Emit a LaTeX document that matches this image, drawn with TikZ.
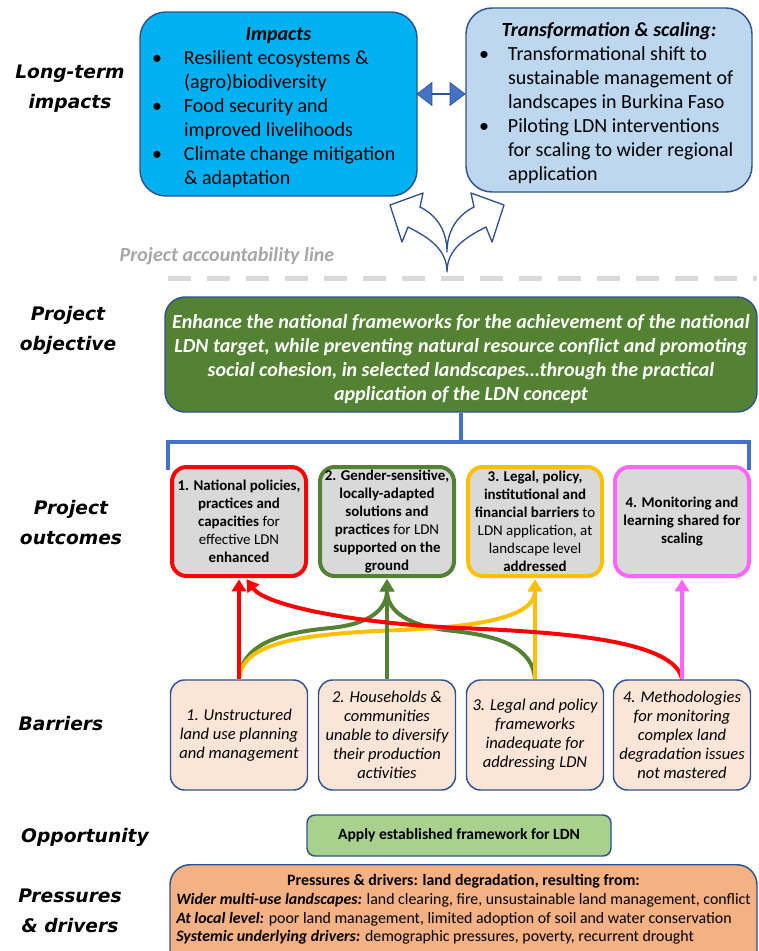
\documentclass[tikz,border=0pt]{standalone}
\usepackage{fontspec}
\setmainfont{Carlito}
\newfontfamily\lblfont{DejaVu Sans}
\usetikzlibrary{arrows.meta,shapes.arrows}
\definecolor{impblue}{HTML}{00B0F0}
\definecolor{trblue}{HTML}{BDD7EE}
\definecolor{edgeblue}{HTML}{2F528F}
\definecolor{accblue}{HTML}{4472C4}
\definecolor{objgreen}{HTML}{548235}
\definecolor{outgray}{HTML}{D9D9D9}
\definecolor{outyellow}{HTML}{FFC000}
\definecolor{outpink}{HTML}{FF66FF}
\definecolor{barfill}{HTML}{FBE5D6}
\definecolor{oppgreen}{HTML}{A9D18E}
\definecolor{presfill}{HTML}{F4B183}
\definecolor{linegray}{HTML}{D9D9D9}
\definecolor{txtgray}{HTML}{A6A6A6}

\begin{document}
\begin{tikzpicture}[x=0.75pt, y=-0.75pt,
  lbl/.style={font=\lblfont\bfseries\itshape\fontsize{14}{22.5}\selectfont, align=center},
  topbox/.style={draw=edgeblue, line width=1.1pt, rounded corners=19.5pt, minimum width=207.75pt, minimum height=138pt, inner sep=0pt, font=\fontsize{15}{18}\selectfont},
  outbox/.style={draw=#1, line width=3pt, fill=outgray, rounded corners=11pt, minimum width=100.5pt, minimum height=81.75pt, inner sep=0pt, align=center, font=\fontsize{11.2}{13.5}\selectfont},
  barbox/.style={draw=edgeblue, line width=1.1pt, fill=barfill, rounded corners=10.5pt, minimum width=102.75pt, minimum height=82.5pt, inner sep=0pt, align=center, font=\itshape\fontsize{12.4}{14.25}\selectfont},
  link/.style={draw=#1, line width=3pt, shorten >=1pt, -{Triangle[length=9pt,width=10.5pt]}},
]
\useasboundingbox (0,0) rectangle (759,951);

\node[lbl] (LblImp) at (70,89) {Long-term\\impacts};
\node[lbl] (LblObj) at (68,330) {Project\\objective};
\node[lbl] (LblOut) at (71,523) {Project\\outcomes};
\node[lbl] (LblBar) at (61,724) {Barriers};
\node[lbl] (LblOpp) at (85,837) {Opportunity};
\node[lbl] (LblPres) at (70,911) {Pressures\\\& drivers};

\node[topbox, fill=impblue] (Imp) at (278.5,104) {\begin{tabular}{@{}p{24pt}@{}p{165.75pt}@{}}
\multicolumn{2}{c}{\rule{0pt}{18.6pt}\textbf{\textit{Impacts}}}\\
\textbullet & Resilient ecosystems \&\\
 & (agro)biodiversity\\
\textbullet & Food security and\\
 & improved livelihoods\\
\textbullet & Climate change mitigation\\
 & \& adaptation
\end{tabular}};
\node[topbox, fill=trblue, minimum width=214.5pt] (Trans) at (609,100) {\begin{tabular}{@{}p{21.75pt}@{}p{173.25pt}@{}}
\multicolumn{2}{c}{\rule{0pt}{18.6pt}\textbf{\textit{Transformation \& scaling:}}}\\
\textbullet & Transformational shift to\\
 & sustainable management of\\
 & landscapes in Burkina Faso\\
\textbullet & Piloting LDN interventions\\
 & for scaling to wider regional\\
 & application
\end{tabular}};
\node[double arrow, fill=accblue, draw=edgeblue, line width=0.5pt, minimum height=36pt, minimum width=17.25pt, double arrow head extend=4.9pt, double arrow tip angle=75, inner sep=0pt] (Dbl) at (441,94) {};

\draw[edgeblue, line width=1pt, fill=white, line join=round] (447,272) .. controls (447,250) and (430,238) .. (408,227) -- (402,242) -- (390,205) -- (423,193) -- (420,207) .. controls (438,216) and (447,232) .. (447,252) .. controls (447,232) and (456,216) .. (474,207) -- (471,193) -- (504,205) -- (492,242) -- (486,227) .. controls (464,238) and (447,250) .. (447,272) -- cycle;

\node[text=txtgray, font=\bfseries\itshape\fontsize{15}{18}\selectfont] (Acc) at (227,256) {Project accountability line};
\draw[linegray, line width=3.75pt, dash pattern=on 17.25pt off 12pt] (168,278) -- (757,278);

\node[draw=edgeblue, line width=1.1pt, fill=objgreen, rounded corners=15pt, minimum width=444pt, minimum height=86.25pt, inner sep=0pt, align=center, text=white, font=\bfseries\itshape\fontsize{15}{18}\selectfont] (Obj) at (461,354.5) {\rule{0pt}{17pt}Enhance the national frameworks for the achievement of the national\\LDN target, while preventing natural resource conflict and promoting\\social cohesion, in selected landscapes\dots through the practical\\application of the LDN concept};

\coordinate (BrL) at (168,470);
\coordinate (BrR) at (749,470);
\draw[accblue, line width=2.5pt] (Obj.south) -- (Obj.south |- 0,442);
\draw[accblue, line width=2.5pt] (BrL) -- ++(0,-28) -| (BrR);

\node[outbox=red] (Out1) at (239,521.5) {\textbf{1. National policies,}\\\textbf{practices and}\\\textbf{capacities} for\\effective LDN\\\textbf{enhanced}};
\node[outbox=objgreen] (Out2) at (387,521.5) {\textbf{2. Gender-sensitive,}\\\textbf{locally-adapted}\\\textbf{solutions and}\\\textbf{practices} for LDN\\\textbf{supported on the}\\\textbf{ground}};
\node[outbox=outyellow] (Out3) at (535,521.5) {\textbf{3. Legal, policy,}\\\textbf{institutional and}\\\textbf{financial barriers} to\\LDN application, at\\landscape level\\\textbf{addressed}};
\node[outbox=outpink] (Out4) at (682,521.5) {\textbf{4. Monitoring and}\\\textbf{learning shared for}\\\textbf{scaling}};

\node[barbox] (Bar1) at (239,735) {1. Unstructured\\land use planning\\and management};
\node[barbox] (Bar2) at (387,735) {2. Households \&\\communities\\unable to diversify\\their production\\activities};
\node[barbox] (Bar3) at (535,735) {3. Legal and policy\\frameworks\\inadequate for\\addressing LDN};
\node[barbox] (Bar4) at (682,735) {4. Methodologies\\for monitoring\\complex land\\degradation issues\\not mastered};

\draw[link=objgreen] (Bar1.north) .. controls (242,640) and (290,632) .. (330,628) .. controls (372,624) and (387,608) .. (Out2.south);
\draw[link=objgreen] (Bar3.north) .. controls (532,640) and (482,634) .. (445,630) .. controls (402,624) and (387,608) .. (Out2.south);
\draw[link=outyellow] (Bar1.north) .. controls (242,645) and (290,634) .. (400,630) .. controls (500,626) and (535,612) .. (Out3.south);
\draw[link=objgreen] (Bar2) -- (Out2);
\draw[link=outyellow] (Bar3) -- (Out3);
\draw[link=red] (Bar4.north) .. controls (675,640) and (560,632) .. (460,628) .. controls (350,623) and (265,605) .. ([xshift=5pt]Out1.south);
\draw[link=red] (Bar1) -- (Out1);
\draw[link=outpink] (Bar4) -- (Out4);

\node[draw=edgeblue, line width=1.1pt, fill=oppgreen, rounded corners=6pt, minimum width=228pt, minimum height=30.75pt, font=\bfseries\fontsize{11.7}{14}\selectfont] (Opp) at (459,835.5) {Apply established framework for LDN};

\node[draw=edgeblue, line width=1.1pt, fill=presfill, rounded corners=15pt, minimum width=440.25pt, anchor=north, inner xsep=0pt, inner ysep=6pt, font=\fontsize{11.9}{14}\selectfont] (Pres) at (463.5,864) {\begin{tabular}{@{}l@{}}
\multicolumn{1}{c}{\textbf{Pressures \& drivers: land degradation, resulting from:}}\\
\textbf{\textit{Wider multi-use landscapes:}} land clearing, fire, unsustainable land management, conflict\\
\textbf{\textit{At local level:}} poor land management, limited adoption of soil and water conservation\\
\textbf{\textit{Systemic underlying drivers:}} demographic pressures, poverty, recurrent drought\\[20pt]
\end{tabular}};
\end{tikzpicture}
\end{document}
